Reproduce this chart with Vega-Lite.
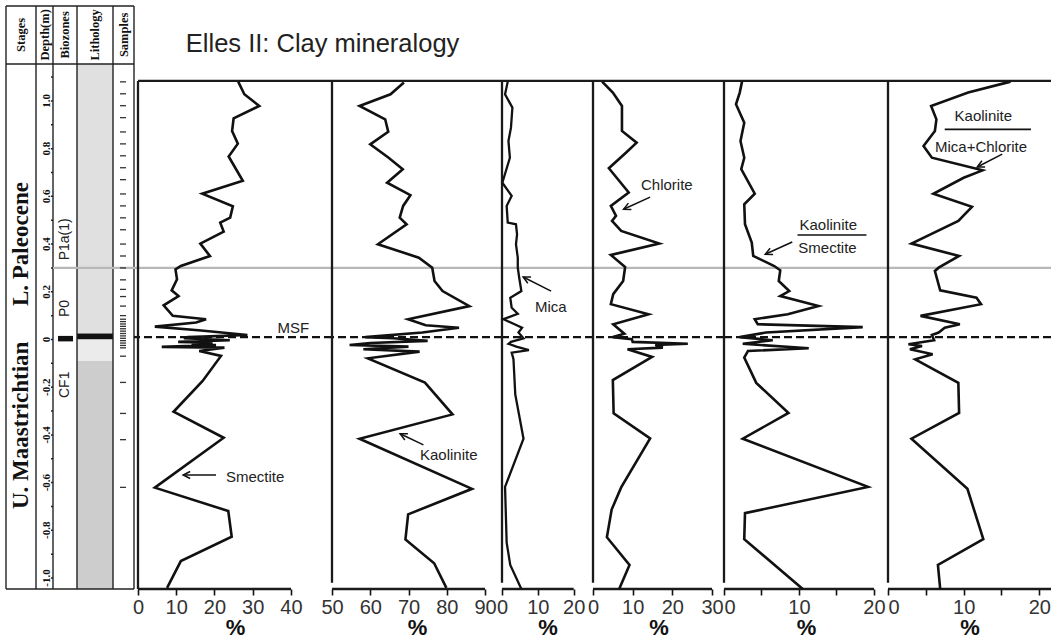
{
"$schema": "https://vega.github.io/schema/vega-lite/v6.json",
"padding": {"left": 5, "top": 5, "right": 0, "bottom": 0},
"spacing": 0,
"bounds": "flush",
"config": {
 "view": {"stroke": null},
 "font": "Liberation Sans",
 "axisX": {"domain": false, "grid": false, "tickSize": 6, "tickWidth": 1.6, "tickColor": "#111", "labelFontSize": 20, "labelColor": "#333", "labelPadding": 2, "labelFont": "Liberation Sans", "titleFont": "Liberation Sans", "titleFontSize": 22, "titleFontWeight": "bold", "titleColor": "#111", "titlePadding": 0, "labelFlush": false, "labelOverlap": false}
},
"datasets": {
 "grayline": [{"d": 0.3}],
 "msfline": [{"d": 0.01}],
 "topline": [{"d": 1.084}],
 "smectite": [
  {"d":1.081,"v":26.2},{"d":1.028,"v":27.8},{"d":0.979,"v":31.7},{"d":0.927,"v":25.0},{"d":0.874,"v":24.6},{"d":0.821,"v":26.1},{"d":0.767,"v":23.7},{"d":0.665,"v":27.4},{"d":0.611,"v":16.8},{"d":0.558,"v":24.8},{"d":0.511,"v":24.1},{"d":0.490,"v":21.5},{"d":0.452,"v":22.4},{"d":0.402,"v":16.3},{"d":0.350,"v":18.8},{"d":0.308,"v":11.2},{"d":0.294,"v":9.8},{"d":0.252,"v":10.2},{"d":0.206,"v":8.8},{"d":0.182,"v":10.6},{"d":0.143,"v":6.7},{"d":0.099,"v":9.1},{"d":0.085,"v":17.8},{"d":0.071,"v":15.2},{"d":0.054,"v":4.4},{"d":0.038,"v":16.5},{"d":0.019,"v":28.6},{"d":0.010,"v":13.0},{"d":0.005,"v":12.0},{"d":-0.003,"v":24.0},{"d":-0.010,"v":10.5},{"d":-0.013,"v":19.5},{"d":-0.020,"v":14.0},{"d":-0.023,"v":20.4},{"d":-0.031,"v":6.2},{"d":-0.034,"v":22.6},{"d":-0.048,"v":16.0},{"d":-0.069,"v":21.7},{"d":-0.174,"v":16.9},{"d":-0.303,"v":9.3},{"d":-0.412,"v":22.4},{"d":-0.621,"v":4.4},{"d":-0.719,"v":23.6},{"d":-0.827,"v":24.5},{"d":-0.929,"v":11.2},{"d":-1.041,"v":7.6}
 ],
 "kaolinite": [
  {"d":1.077,"v":68.8},{"d":1.028,"v":65.3},{"d":0.979,"v":57.2},{"d":0.923,"v":63.9},{"d":0.871,"v":64.7},{"d":0.818,"v":60.0},{"d":0.762,"v":64.8},{"d":0.714,"v":68.5},{"d":0.657,"v":64.4},{"d":0.605,"v":70.5},{"d":0.560,"v":68.6},{"d":0.511,"v":67.7},{"d":0.483,"v":69.5},{"d":0.399,"v":62.0},{"d":0.343,"v":72.7},{"d":0.301,"v":76.2},{"d":0.245,"v":76.8},{"d":0.203,"v":78.9},{"d":0.140,"v":85.9},{"d":0.085,"v":69.9},{"d":0.060,"v":74.5},{"d":0.049,"v":83.2},{"d":0.029,"v":73.6},{"d":0.010,"v":58.7},{"d":0.005,"v":66.0},{"d":-0.006,"v":75.0},{"d":-0.015,"v":60.0},{"d":-0.023,"v":54.6},{"d":-0.030,"v":70.0},{"d":-0.041,"v":58.2},{"d":-0.051,"v":72.9},{"d":-0.079,"v":59.4},{"d":-0.181,"v":74.3},{"d":-0.314,"v":81.5},{"d":-0.416,"v":57.2},{"d":-0.626,"v":86.6},{"d":-0.733,"v":69.9},{"d":-0.838,"v":69.2},{"d":-0.938,"v":76.7},{"d":-1.041,"v":79.9}
 ],
 "mica": [
  {"d":1.081,"v":1.6},{"d":1.028,"v":0.85},{"d":0.972,"v":2.9},{"d":0.888,"v":2.5},{"d":0.832,"v":1.8},{"d":0.762,"v":2.2},{"d":0.657,"v":0.1},{"d":0.602,"v":2.7},{"d":0.560,"v":1.3},{"d":0.490,"v":1.6},{"d":0.483,"v":3.9},{"d":0.441,"v":4.2},{"d":0.399,"v":3.9},{"d":0.343,"v":4.4},{"d":0.301,"v":4.4},{"d":0.259,"v":4.8},{"d":0.203,"v":5.4},{"d":0.175,"v":2.3},{"d":0.133,"v":2.7},{"d":0.108,"v":4.4},{"d":0.085,"v":0.4},{"d":0.064,"v":3.5},{"d":0.049,"v":5.6},{"d":0.029,"v":4.6},{"d":0.005,"v":6.0},{"d":-0.010,"v":2.5},{"d":-0.018,"v":1.8},{"d":-0.030,"v":4.0},{"d":-0.045,"v":7.5},{"d":-0.055,"v":2.7},{"d":-0.083,"v":3.2},{"d":-0.230,"v":3.7},{"d":-0.416,"v":6.0},{"d":-0.618,"v":0.85},{"d":-0.852,"v":1.3},{"d":-0.945,"v":2.3},{"d":-1.046,"v":5.4}
 ],
 "chlorite": [
  {"d":1.081,"v":2.3},{"d":1.035,"v":5.0},{"d":0.979,"v":7.3},{"d":0.874,"v":7.3},{"d":0.825,"v":11.0},{"d":0.783,"v":8.3},{"d":0.718,"v":4.0},{"d":0.616,"v":9.0},{"d":0.560,"v":4.5},{"d":0.518,"v":5.8},{"d":0.497,"v":4.8},{"d":0.455,"v":7.1},{"d":0.402,"v":16.7},{"d":0.354,"v":4.5},{"d":0.304,"v":8.1},{"d":0.245,"v":7.6},{"d":0.190,"v":5.1},{"d":0.148,"v":4.5},{"d":0.106,"v":14.0},{"d":0.064,"v":5.1},{"d":0.024,"v":7.9},{"d":0.010,"v":5.0},{"d":0.001,"v":9.8},{"d":-0.010,"v":10.0},{"d":-0.018,"v":23.9},{"d":-0.023,"v":15.7},{"d":-0.034,"v":17.6},{"d":-0.041,"v":8.7},{"d":-0.073,"v":14.9},{"d":-0.170,"v":5.0},{"d":-0.309,"v":5.2},{"d":-0.415,"v":14.4},{"d":-0.620,"v":7.1},{"d":-0.713,"v":4.7},{"d":-0.829,"v":3.5},{"d":-0.945,"v":9.2},{"d":-1.046,"v":6.6}
 ],
 "ks": [
  {"d":1.081,"v":2.4},{"d":1.035,"v":2.1},{"d":0.986,"v":1.6},{"d":0.909,"v":2.7},{"d":0.832,"v":2.2},{"d":0.762,"v":2.7},{"d":0.714,"v":2.3},{"d":0.611,"v":4.1},{"d":0.567,"v":2.7},{"d":0.483,"v":2.8},{"d":0.406,"v":3.7},{"d":0.350,"v":3.9},{"d":0.308,"v":6.7},{"d":0.290,"v":7.5},{"d":0.245,"v":7.3},{"d":0.203,"v":8.7},{"d":0.182,"v":7.5},{"d":0.140,"v":12.6},{"d":0.106,"v":8.5},{"d":0.085,"v":4.1},{"d":0.064,"v":4.5},{"d":0.052,"v":18.5},{"d":0.029,"v":5.6},{"d":0.010,"v":2.1},{"d":-0.003,"v":6.5},{"d":-0.018,"v":2.5},{"d":-0.037,"v":11.3},{"d":-0.048,"v":3.2},{"d":-0.076,"v":2.7},{"d":-0.182,"v":4.3},{"d":-0.308,"v":8.6},{"d":-0.416,"v":2.5},{"d":-0.618,"v":19.2},{"d":-0.728,"v":2.8},{"d":-0.837,"v":2.7},{"d":-1.046,"v":10.5}
 ],
 "kmc": [
  {"d":1.081,"v":16.2},{"d":1.035,"v":10.6},{"d":0.979,"v":5.7},{"d":0.923,"v":6.4},{"d":0.874,"v":6.2},{"d":0.811,"v":4.7},{"d":0.762,"v":5.8},{"d":0.709,"v":12.5},{"d":0.678,"v":10.0},{"d":0.611,"v":6.0},{"d":0.556,"v":11.1},{"d":0.497,"v":9.3},{"d":0.402,"v":3.1},{"d":0.350,"v":9.4},{"d":0.301,"v":6.7},{"d":0.287,"v":6.2},{"d":0.206,"v":6.9},{"d":0.175,"v":11.7},{"d":0.148,"v":12.3},{"d":0.099,"v":4.3},{"d":0.064,"v":9.5},{"d":0.049,"v":7.5},{"d":0.029,"v":6.7},{"d":0.019,"v":5.8},{"d":-0.003,"v":6.1},{"d":-0.020,"v":2.7},{"d":-0.027,"v":4.5},{"d":-0.041,"v":2.9},{"d":-0.062,"v":5.9},{"d":-0.083,"v":3.6},{"d":-0.182,"v":9.3},{"d":-0.308,"v":9.4},{"d":-0.416,"v":3.1},{"d":-0.626,"v":10.5},{"d":-0.837,"v":12.6},{"d":-0.945,"v":6.6},{"d":-1.046,"v":6.9}
 ],
 "samples": [
  {"d":1.08},{"d":1.03},{"d":0.98},{"d":0.93},{"d":0.87},{"d":0.82},{"d":0.77},{"d":0.72},{"d":0.67},{"d":0.61},{"d":0.56},{"d":0.51},{"d":0.46},{"d":0.40},{"d":0.35},{"d":0.30},{"d":0.25},{"d":0.21},{"d":0.18},{"d":0.14},{"d":0.10},{"d":0.085},{"d":0.075},{"d":0.065},{"d":0.055},{"d":0.045},{"d":0.035},{"d":0.025},{"d":0.015},{"d":0.005},{"d":-0.005},{"d":-0.015},{"d":-0.025},{"d":-0.035},{"d":-0.07},{"d":-0.18},{"d":-0.31},{"d":-0.42},{"d":-0.62}
 ],
 "depthticks": [
  {"d":1.1},{"d":1.0},{"d":0.9},{"d":0.8},{"d":0.7},{"d":0.6},{"d":0.5},{"d":0.4},{"d":0.3},{"d":0.2},{"d":0.1},{"d":0.0},{"d":-0.1},{"d":-0.2},{"d":-0.3},{"d":-0.4},{"d":-0.5},{"d":-0.6},{"d":-0.7},{"d":-0.8},{"d":-0.9},{"d":-1.0}
 ],
 "depthlabels": [
  {"d":1.0,"label":"1.0"},{"d":0.8,"label":"0.8"},{"d":0.6,"label":"0.6"},{"d":0.4,"label":"0.4"},{"d":0.2,"label":"0.2"},{"d":0.0,"label":"0"},{"d":-0.2,"label":"-0.2"},{"d":-0.4,"label":"-0.4"},{"d":-0.6,"label":"-0.6"},{"d":-0.8,"label":"-0.8"},{"d":-1.0,"label":"-1.0"}
 ]
},
"hconcat": [
 {
  "width": 132, "height": 583,
  "layer": [
   {"data": {"values": [
     {"x":71,"x2":107,"d":1.155,"d2":0.025,"unit":"stipple"},
     {"x":71,"x2":107,"d":0.025,"d2":0.0,"unit":"black"},
     {"x":71,"x2":107,"d":0.0,"d2":-0.09,"unit":"mixed"},
     {"x":71,"x2":107,"d":-0.09,"d2":-1.046,"unit":"marl"},
     {"x":52,"x2":67,"d":0.015,"d2":-0.008,"unit":"black"}
    ]},
    "mark": {"type": "rect"},
    "encoding": {
     "x": {"field": "x", "type": "quantitative", "scale": {"domain": [0, 132], "nice": false, "zero": false}, "axis": null},
     "x2": {"field": "x2"},
     "y": {"field": "d", "type": "quantitative", "scale": {"domain": [-1.046, 1.398], "nice": false, "zero": false}, "axis": null},
     "y2": {"field": "d2"},
     "color": {"field": "unit", "type": "nominal", "scale": {"domain": ["stipple", "black", "mixed", "marl"], "range": ["#e0e0e0", "#111111", "#ebebeb", "#cdcdcd"]}, "legend": null}
    }
   },
   {"data": {"values": [
     {"x":0,"x2":128,"d":1.398,"d2":1.398},
     {"x":0,"x2":128,"d":-1.046,"d2":-1.046},
     {"x":0,"x2":0,"d":1.398,"d2":-1.046},
     {"x":128,"x2":128,"d":1.398,"d2":-1.046},
     {"x":0,"x2":128,"d":1.155,"d2":1.155},
     {"x":30,"x2":30,"d":1.398,"d2":-1.046},
     {"x":47,"x2":47,"d":1.398,"d2":-1.046},
     {"x":71,"x2":71,"d":1.398,"d2":-1.046},
     {"x":107,"x2":107,"d":1.398,"d2":-1.046}
    ]},
    "mark": {"type": "rule", "color": "#222", "strokeWidth": 1.4},
    "encoding": {
     "x": {"field": "x", "type": "quantitative", "scale": {"domain": [0, 132], "nice": false, "zero": false}, "axis": null},
     "x2": {"field": "x2"},
     "y": {"field": "d", "type": "quantitative", "scale": {"domain": [-1.046, 1.398], "nice": false, "zero": false}, "axis": null},
     "y2": {"field": "d2"}
    }
   },
   {"data": {"values": [
     {"x":47,"x2":132,"d":0.3}
    ]},
    "mark": {"type": "rule", "color": "#b8b8b8", "strokeWidth": 2.2},
    "encoding": {
     "x": {"field": "x", "type": "quantitative", "scale": {"domain": [0, 132], "nice": false, "zero": false}, "axis": null},
     "x2": {"field": "x2"},
     "y": {"field": "d", "type": "quantitative", "scale": {"domain": [-1.046, 1.398], "nice": false, "zero": false}, "axis": null}
    }
   },
   {"data": {"values": [
     {"x":128,"x2":132,"d":0.01}
    ]},
    "mark": {"type": "rule", "color": "#111", "strokeWidth": 2.3},
    "encoding": {
     "x": {"field": "x", "type": "quantitative", "scale": {"domain": [0, 132], "nice": false, "zero": false}, "axis": null},
     "x2": {"field": "x2"},
     "y": {"field": "d", "type": "quantitative", "scale": {"domain": [-1.046, 1.398], "nice": false, "zero": false}, "axis": null}
    }
   },
   {"data": {"name": "samples"},
    "mark": {"type": "rule", "color": "#333", "strokeWidth": 1.3},
    "encoding": {
     "x": {"datum": 114, "type": "quantitative", "scale": {"domain": [0, 132], "nice": false, "zero": false}, "axis": null},
     "x2": {"datum": 120},
     "y": {"field": "d", "type": "quantitative", "scale": {"domain": [-1.046, 1.398], "nice": false, "zero": false}, "axis": null}
    }
   },
   {"data": {"name": "depthticks"},
    "mark": {"type": "rule", "color": "#222", "strokeWidth": 1.5},
    "encoding": {
     "x": {"datum": 45, "type": "quantitative", "scale": {"domain": [0, 132], "nice": false, "zero": false}, "axis": null},
     "x2": {"datum": 47},
     "y": {"field": "d", "type": "quantitative", "scale": {"domain": [-1.046, 1.398], "nice": false, "zero": false}, "axis": null}
    }
   },
   {"data": {"name": "depthlabels"},
    "mark": {"type": "text", "angle": 270, "font": "Liberation Serif", "fontWeight": "bold", "fontSize": 11, "align": "center", "baseline": "bottom", "color": "#111"},
    "encoding": {
     "x": {"datum": 45.5, "type": "quantitative", "scale": {"domain": [0, 132], "nice": false, "zero": false}, "axis": null},
     "y": {"field": "d", "type": "quantitative", "scale": {"domain": [-1.046, 1.398], "nice": false, "zero": false}, "axis": null},
     "text": {"field": "label"}
    }
   },
   {"data": {"values": [
     {"x":15,"d":1.277,"label":"Stages"},
     {"x":38.5,"d":1.277,"label":"Depth(m)"},
     {"x":59,"d":1.277,"label":"Biozones"},
     {"x":89,"d":1.277,"label":"Lithology"},
     {"x":117.5,"d":1.277,"label":"Samples"}
    ]},
    "mark": {"type": "text", "angle": 270, "font": "Liberation Serif", "fontWeight": "bold", "fontSize": 12.5, "align": "center", "baseline": "middle", "color": "#111"},
    "encoding": {
     "x": {"field": "x", "type": "quantitative", "scale": {"domain": [0, 132], "nice": false, "zero": false}, "axis": null},
     "y": {"field": "d", "type": "quantitative", "scale": {"domain": [-1.046, 1.398], "nice": false, "zero": false}, "axis": null},
     "text": {"field": "label"}
    }
   },
   {"data": {"values": [
     {"x":15,"d":0.40,"label":"L. Paleocene"},
     {"x":15,"d":-0.36,"label":"U. Maastrichtian"}
    ]},
    "mark": {"type": "text", "angle": 270, "font": "Liberation Serif", "fontWeight": "bold", "fontSize": 23, "align": "center", "baseline": "middle", "color": "#111"},
    "encoding": {
     "x": {"field": "x", "type": "quantitative", "scale": {"domain": [0, 132], "nice": false, "zero": false}, "axis": null},
     "y": {"field": "d", "type": "quantitative", "scale": {"domain": [-1.046, 1.398], "nice": false, "zero": false}, "axis": null},
     "text": {"field": "label"}
    }
   },
   {"data": {"values": [
     {"d":0.42,"label":"P1a(1)"},
     {"d":0.13,"label":"P0"},
     {"d":-0.19,"label":"CF1"}
    ]},
    "mark": {"type": "text", "angle": 270, "font": "Liberation Sans", "fontSize": 14, "align": "center", "baseline": "middle", "color": "#222"},
    "encoding": {
     "x": {"datum": 59, "type": "quantitative", "scale": {"domain": [0, 132], "nice": false, "zero": false}, "axis": null},
     "y": {"field": "d", "type": "quantitative", "scale": {"domain": [-1.046, 1.398], "nice": false, "zero": false}, "axis": null},
     "text": {"field": "label"}
    }
   }
  ]
 },
 {
  "width": 194, "height": 583,
  "layer": [
   {"data": {"name": "grayline"}, "mark": {"type": "rule", "color": "#b8b8b8", "strokeWidth": 2.2}, "encoding": {"y": {"field": "d", "type": "quantitative", "scale": {"domain": [-1.046, 1.398], "nice": false, "zero": false}, "axis": null}}},
   {"data": {"name": "msfline"}, "mark": {"type": "rule", "color": "#111", "strokeWidth": 2.3, "strokeDash": [8, 4]}, "encoding": {"y": {"field": "d", "type": "quantitative", "scale": {"domain": [-1.046, 1.398], "nice": false, "zero": false}, "axis": null}}},
   {"data": {"name": "topline"}, "mark": {"type": "rule", "color": "#1a1a1a", "strokeWidth": 2.3}, "encoding": {"y": {"field": "d", "type": "quantitative", "scale": {"domain": [-1.046, 1.398], "nice": false, "zero": false}, "axis": null}}},
   {"data": {"values": [{"v": 0, "d": 1.084, "d2": -1.046}]}, "mark": {"type": "rule", "color": "#1a1a1a", "strokeWidth": 2.3},
    "encoding": {"x": {"field": "v", "type": "quantitative", "scale": {"domain": [0, 50.72], "nice": false, "zero": false}, "axis": {"values": [0,10,20,30,40]}, "title": "%"}, "y": {"field": "d", "type": "quantitative", "scale": {"domain": [-1.046, 1.398], "nice": false, "zero": false}, "axis": null}, "y2": {"field": "d2"}}},
   {"data": {"values": [{"v": 0, "v2": 40, "d": -1.046}]}, "mark": {"type": "rule", "color": "#1a1a1a", "strokeWidth": 2.3},
    "encoding": {"x": {"field": "v", "type": "quantitative", "scale": {"domain": [0, 50.72], "nice": false, "zero": false}, "axis": {"values": [0,10,20,30,40]}, "title": "%"}, "x2": {"field": "v2"}, "y": {"field": "d", "type": "quantitative", "scale": {"domain": [-1.046, 1.398], "nice": false, "zero": false}, "axis": null}}},
   {"data": {"name": "smectite"}, "mark": {"type": "line", "color": "#111", "strokeWidth": 2.6},
    "encoding": {"x": {"field": "v", "type": "quantitative", "scale": {"domain": [0, 50.72], "nice": false, "zero": false}, "axis": {"values": [0,10,20,30,40]}, "title": "%"}, "y": {"field": "d", "type": "quantitative", "scale": {"domain": [-1.046, 1.398], "nice": false, "zero": false}, "axis": null}, "order": {"field": "d", "type": "quantitative"}}},
   {"data": {"values": [{"v": 20.4, "d": -0.568, "v2": 11.8, "d2": -0.568}]}, "mark": {"type": "rule", "color": "#111", "strokeWidth": 1.5},
    "encoding": {"x": {"field": "v", "type": "quantitative", "scale": {"domain": [0, 50.72], "nice": false, "zero": false}, "axis": {"values": [0,10,20,30,40]}, "title": "%"}, "x2": {"field": "v2"}, "y": {"field": "d", "type": "quantitative", "scale": {"domain": [-1.046, 1.398], "nice": false, "zero": false}, "axis": null}, "y2": {"field": "d2"}}},
   {"data": {"values": [{"v": 11.8, "d": -0.568}]}, "mark": {"type": "point", "shape": "M-1,-0.5L0,0L-1,0.5", "angle": 180, "size": 196, "filled": false, "color": "#111", "strokeWidth": 1.5, "opacity": 1},
    "encoding": {"x": {"field": "v", "type": "quantitative", "scale": {"domain": [0, 50.72], "nice": false, "zero": false}, "axis": {"values": [0,10,20,30,40]}, "title": "%"}, "y": {"field": "d", "type": "quantitative", "scale": {"domain": [-1.046, 1.398], "nice": false, "zero": false}, "axis": null}}},
   {"data": {"values": [{"v": 23.0, "d": -0.577, "label": "Smectite"}, {"v": 36.5, "d": 0.049, "label": "MSF"}]}, "mark": {"type": "text", "fontSize": 15, "align": "left", "baseline": "middle", "color": "#222"},
    "encoding": {"x": {"field": "v", "type": "quantitative", "scale": {"domain": [0, 50.72], "nice": false, "zero": false}, "axis": {"values": [0,10,20,30,40]}, "title": "%"}, "y": {"field": "d", "type": "quantitative", "scale": {"domain": [-1.046, 1.398], "nice": false, "zero": false}, "axis": null}, "text": {"field": "label"}}},
   {"data": {"values": [{"v": 12.5, "d": 1.205, "label": "Elles II: Clay mineralogy"}]}, "mark": {"type": "text", "fontSize": 25.5, "align": "left", "baseline": "alphabetic", "color": "#222"},
    "encoding": {"x": {"field": "v", "type": "quantitative", "scale": {"domain": [0, 50.72], "nice": false, "zero": false}, "axis": {"values": [0,10,20,30,40]}, "title": "%"}, "y": {"field": "d", "type": "quantitative", "scale": {"domain": [-1.046, 1.398], "nice": false, "zero": false}, "axis": null}, "text": {"field": "label"}}}
  ]
 },
 {
  "width": 170, "height": 583,
  "layer": [
   {"data": {"name": "grayline"}, "mark": {"type": "rule", "color": "#b8b8b8", "strokeWidth": 2.2}, "encoding": {"y": {"field": "d", "type": "quantitative", "scale": {"domain": [-1.046, 1.398], "nice": false, "zero": false}, "axis": null}}},
   {"data": {"name": "msfline"}, "mark": {"type": "rule", "color": "#111", "strokeWidth": 2.3, "strokeDash": [8, 4]}, "encoding": {"y": {"field": "d", "type": "quantitative", "scale": {"domain": [-1.046, 1.398], "nice": false, "zero": false}, "axis": null}}},
   {"data": {"name": "topline"}, "mark": {"type": "rule", "color": "#1a1a1a", "strokeWidth": 2.3}, "encoding": {"y": {"field": "d", "type": "quantitative", "scale": {"domain": [-1.046, 1.398], "nice": false, "zero": false}, "axis": null}}},
   {"data": {"values": [{"v": 50, "d": 1.084, "d2": -1.02}]}, "mark": {"type": "rule", "color": "#1a1a1a", "strokeWidth": 2.3},
    "encoding": {"x": {"field": "v", "type": "quantitative", "scale": {"domain": [50, 94.44], "nice": false, "zero": false}, "axis": {"values": [50,60,70,80,90]}, "title": "%"}, "y": {"field": "d", "type": "quantitative", "scale": {"domain": [-1.046, 1.398], "nice": false, "zero": false}, "axis": null}, "y2": {"field": "d2"}}},
   {"data": {"values": [{"v": 50, "v2": 90, "d": -1.046}]}, "mark": {"type": "rule", "color": "#1a1a1a", "strokeWidth": 2.3},
    "encoding": {"x": {"field": "v", "type": "quantitative", "scale": {"domain": [50, 94.44], "nice": false, "zero": false}, "axis": {"values": [50,60,70,80,90]}, "title": "%"}, "x2": {"field": "v2"}, "y": {"field": "d", "type": "quantitative", "scale": {"domain": [-1.046, 1.398], "nice": false, "zero": false}, "axis": null}}},
   {"data": {"name": "kaolinite"}, "mark": {"type": "line", "color": "#111", "strokeWidth": 2.6},
    "encoding": {"x": {"field": "v", "type": "quantitative", "scale": {"domain": [50, 94.44], "nice": false, "zero": false}, "axis": {"values": [50,60,70,80,90]}, "title": "%"}, "y": {"field": "d", "type": "quantitative", "scale": {"domain": [-1.046, 1.398], "nice": false, "zero": false}, "axis": null}, "order": {"field": "d", "type": "quantitative"}}},
   {"data": {"values": [{"v": 73.9, "d": -0.442, "v2": 67.8, "d2": -0.395}]}, "mark": {"type": "rule", "color": "#111", "strokeWidth": 1.5},
    "encoding": {"x": {"field": "v", "type": "quantitative", "scale": {"domain": [50, 94.44], "nice": false, "zero": false}, "axis": {"values": [50,60,70,80,90]}, "title": "%"}, "x2": {"field": "v2"}, "y": {"field": "d", "type": "quantitative", "scale": {"domain": [-1.046, 1.398], "nice": false, "zero": false}, "axis": null}, "y2": {"field": "d2"}}},
   {"data": {"values": [{"v": 67.8, "d": -0.395}]}, "mark": {"type": "point", "shape": "M-1,-0.5L0,0L-1,0.5", "angle": 206, "size": 196, "filled": false, "color": "#111", "strokeWidth": 1.5, "opacity": 1},
    "encoding": {"x": {"field": "v", "type": "quantitative", "scale": {"domain": [50, 94.44], "nice": false, "zero": false}, "axis": {"values": [50,60,70,80,90]}, "title": "%"}, "y": {"field": "d", "type": "quantitative", "scale": {"domain": [-1.046, 1.398], "nice": false, "zero": false}, "axis": null}}},
   {"data": {"values": [{"v": 73.0, "d": -0.484, "label": "Kaolinite"}]}, "mark": {"type": "text", "fontSize": 15, "align": "left", "baseline": "middle", "color": "#222"},
    "encoding": {"x": {"field": "v", "type": "quantitative", "scale": {"domain": [50, 94.44], "nice": false, "zero": false}, "axis": {"values": [50,60,70,80,90]}, "title": "%"}, "y": {"field": "d", "type": "quantitative", "scale": {"domain": [-1.046, 1.398], "nice": false, "zero": false}, "axis": null}, "text": {"field": "label"}}}
  ]
 },
 {
  "width": 91, "height": 583,
  "layer": [
   {"data": {"name": "grayline"}, "mark": {"type": "rule", "color": "#b8b8b8", "strokeWidth": 2.2}, "encoding": {"y": {"field": "d", "type": "quantitative", "scale": {"domain": [-1.046, 1.398], "nice": false, "zero": false}, "axis": null}}},
   {"data": {"name": "msfline"}, "mark": {"type": "rule", "color": "#111", "strokeWidth": 2.3, "strokeDash": [8, 4]}, "encoding": {"y": {"field": "d", "type": "quantitative", "scale": {"domain": [-1.046, 1.398], "nice": false, "zero": false}, "axis": null}}},
   {"data": {"name": "topline"}, "mark": {"type": "rule", "color": "#1a1a1a", "strokeWidth": 2.3}, "encoding": {"y": {"field": "d", "type": "quantitative", "scale": {"domain": [-1.046, 1.398], "nice": false, "zero": false}, "axis": null}}},
   {"data": {"values": [{"v": 0, "d": 1.084, "d2": -1.02}]}, "mark": {"type": "rule", "color": "#1a1a1a", "strokeWidth": 2.3},
    "encoding": {"x": {"field": "v", "type": "quantitative", "scale": {"domain": [0, 25.38], "nice": false, "zero": false}, "axis": {"values": [0,10,20]}, "title": "%"}, "y": {"field": "d", "type": "quantitative", "scale": {"domain": [-1.046, 1.398], "nice": false, "zero": false}, "axis": null}, "y2": {"field": "d2"}}},
   {"data": {"values": [{"v": 0, "v2": 20, "d": -1.046}]}, "mark": {"type": "rule", "color": "#1a1a1a", "strokeWidth": 2.3},
    "encoding": {"x": {"field": "v", "type": "quantitative", "scale": {"domain": [0, 25.38], "nice": false, "zero": false}, "axis": {"values": [0,10,20]}, "title": "%"}, "x2": {"field": "v2"}, "y": {"field": "d", "type": "quantitative", "scale": {"domain": [-1.046, 1.398], "nice": false, "zero": false}, "axis": null}}},
   {"data": {"name": "mica"}, "mark": {"type": "line", "color": "#111", "strokeWidth": 2.3},
    "encoding": {"x": {"field": "v", "type": "quantitative", "scale": {"domain": [0, 25.38], "nice": false, "zero": false}, "axis": {"values": [0,10,20]}, "title": "%"}, "y": {"field": "d", "type": "quantitative", "scale": {"domain": [-1.046, 1.398], "nice": false, "zero": false}, "axis": null}, "order": {"field": "d", "type": "quantitative"}}},
   {"data": {"values": [{"v": 13.7, "d": 0.203, "v2": 5.9, "d2": 0.262}]}, "mark": {"type": "rule", "color": "#111", "strokeWidth": 1.5},
    "encoding": {"x": {"field": "v", "type": "quantitative", "scale": {"domain": [0, 25.38], "nice": false, "zero": false}, "axis": {"values": [0,10,20]}, "title": "%"}, "x2": {"field": "v2"}, "y": {"field": "d", "type": "quantitative", "scale": {"domain": [-1.046, 1.398], "nice": false, "zero": false}, "axis": null}, "y2": {"field": "d2"}}},
   {"data": {"values": [{"v": 5.9, "d": 0.262}]}, "mark": {"type": "point", "shape": "M-1,-0.5L0,0L-1,0.5", "angle": 207, "size": 196, "filled": false, "color": "#111", "strokeWidth": 1.5, "opacity": 1},
    "encoding": {"x": {"field": "v", "type": "quantitative", "scale": {"domain": [0, 25.38], "nice": false, "zero": false}, "axis": {"values": [0,10,20]}, "title": "%"}, "y": {"field": "d", "type": "quantitative", "scale": {"domain": [-1.046, 1.398], "nice": false, "zero": false}, "axis": null}}},
   {"data": {"values": [{"v": 9.2, "d": 0.138, "label": "Mica"}]}, "mark": {"type": "text", "fontSize": 15, "align": "left", "baseline": "middle", "color": "#222"},
    "encoding": {"x": {"field": "v", "type": "quantitative", "scale": {"domain": [0, 25.38], "nice": false, "zero": false}, "axis": {"values": [0,10,20]}, "title": "%"}, "y": {"field": "d", "type": "quantitative", "scale": {"domain": [-1.046, 1.398], "nice": false, "zero": false}, "axis": null}, "text": {"field": "label"}}}
  ]
 },
 {
  "width": 131, "height": 583,
  "layer": [
   {"data": {"name": "grayline"}, "mark": {"type": "rule", "color": "#b8b8b8", "strokeWidth": 2.2}, "encoding": {"y": {"field": "d", "type": "quantitative", "scale": {"domain": [-1.046, 1.398], "nice": false, "zero": false}, "axis": null}}},
   {"data": {"name": "msfline"}, "mark": {"type": "rule", "color": "#111", "strokeWidth": 2.3, "strokeDash": [8, 4]}, "encoding": {"y": {"field": "d", "type": "quantitative", "scale": {"domain": [-1.046, 1.398], "nice": false, "zero": false}, "axis": null}}},
   {"data": {"name": "topline"}, "mark": {"type": "rule", "color": "#1a1a1a", "strokeWidth": 2.3}, "encoding": {"y": {"field": "d", "type": "quantitative", "scale": {"domain": [-1.046, 1.398], "nice": false, "zero": false}, "axis": null}}},
   {"data": {"values": [{"v": 0, "d": 1.084, "d2": -1.02}]}, "mark": {"type": "rule", "color": "#1a1a1a", "strokeWidth": 2.3},
    "encoding": {"x": {"field": "v", "type": "quantitative", "scale": {"domain": [0, 33.02], "nice": false, "zero": false}, "axis": {"values": [0,10,20,30]}, "title": "%"}, "y": {"field": "d", "type": "quantitative", "scale": {"domain": [-1.046, 1.398], "nice": false, "zero": false}, "axis": null}, "y2": {"field": "d2"}}},
   {"data": {"values": [{"v": 0, "v2": 30, "d": -1.046}]}, "mark": {"type": "rule", "color": "#1a1a1a", "strokeWidth": 2.3},
    "encoding": {"x": {"field": "v", "type": "quantitative", "scale": {"domain": [0, 33.02], "nice": false, "zero": false}, "axis": {"values": [0,10,20,30]}, "title": "%"}, "x2": {"field": "v2"}, "y": {"field": "d", "type": "quantitative", "scale": {"domain": [-1.046, 1.398], "nice": false, "zero": false}, "axis": null}}},
   {"data": {"name": "chlorite"}, "mark": {"type": "line", "color": "#111", "strokeWidth": 2.6},
    "encoding": {"x": {"field": "v", "type": "quantitative", "scale": {"domain": [0, 33.02], "nice": false, "zero": false}, "axis": {"values": [0,10,20,30]}, "title": "%"}, "y": {"field": "d", "type": "quantitative", "scale": {"domain": [-1.046, 1.398], "nice": false, "zero": false}, "axis": null}, "order": {"field": "d", "type": "quantitative"}}},
   {"data": {"values": [{"v": 14.4, "d": 0.597, "v2": 7.7, "d2": 0.546}]}, "mark": {"type": "rule", "color": "#111", "strokeWidth": 1.5},
    "encoding": {"x": {"field": "v", "type": "quantitative", "scale": {"domain": [0, 33.02], "nice": false, "zero": false}, "axis": {"values": [0,10,20,30]}, "title": "%"}, "x2": {"field": "v2"}, "y": {"field": "d", "type": "quantitative", "scale": {"domain": [-1.046, 1.398], "nice": false, "zero": false}, "axis": null}, "y2": {"field": "d2"}}},
   {"data": {"values": [{"v": 7.7, "d": 0.546}]}, "mark": {"type": "point", "shape": "M-1,-0.5L0,0L-1,0.5", "angle": 155, "size": 196, "filled": false, "color": "#111", "strokeWidth": 1.5, "opacity": 1},
    "encoding": {"x": {"field": "v", "type": "quantitative", "scale": {"domain": [0, 33.02], "nice": false, "zero": false}, "axis": {"values": [0,10,20,30]}, "title": "%"}, "y": {"field": "d", "type": "quantitative", "scale": {"domain": [-1.046, 1.398], "nice": false, "zero": false}, "axis": null}}},
   {"data": {"values": [{"v": 12.1, "d": 0.648, "label": "Chlorite"}]}, "mark": {"type": "text", "fontSize": 15, "align": "left", "baseline": "middle", "color": "#222"},
    "encoding": {"x": {"field": "v", "type": "quantitative", "scale": {"domain": [0, 33.02], "nice": false, "zero": false}, "axis": {"values": [0,10,20,30]}, "title": "%"}, "y": {"field": "d", "type": "quantitative", "scale": {"domain": [-1.046, 1.398], "nice": false, "zero": false}, "axis": null}, "text": {"field": "label"}}}
  ]
 },
 {
  "width": 164, "height": 583,
  "layer": [
   {"data": {"name": "grayline"}, "mark": {"type": "rule", "color": "#b8b8b8", "strokeWidth": 2.2}, "encoding": {"y": {"field": "d", "type": "quantitative", "scale": {"domain": [-1.046, 1.398], "nice": false, "zero": false}, "axis": null}}},
   {"data": {"name": "msfline"}, "mark": {"type": "rule", "color": "#111", "strokeWidth": 2.3, "strokeDash": [8, 4]}, "encoding": {"y": {"field": "d", "type": "quantitative", "scale": {"domain": [-1.046, 1.398], "nice": false, "zero": false}, "axis": null}}},
   {"data": {"name": "topline"}, "mark": {"type": "rule", "color": "#1a1a1a", "strokeWidth": 2.3}, "encoding": {"y": {"field": "d", "type": "quantitative", "scale": {"domain": [-1.046, 1.398], "nice": false, "zero": false}, "axis": null}}},
   {"data": {"values": [{"v": 0, "d": 1.084, "d2": -1.02}]}, "mark": {"type": "rule", "color": "#1a1a1a", "strokeWidth": 2.3},
    "encoding": {"x": {"field": "v", "type": "quantitative", "scale": {"domain": [0, 21.87], "nice": false, "zero": false}, "axis": {"values": [0,5,10,15,20], "labelFlush": true, "labelExpr": "datum.value % 10 === 0 ? datum.label : ''"}, "title": "%"}, "y": {"field": "d", "type": "quantitative", "scale": {"domain": [-1.046, 1.398], "nice": false, "zero": false}, "axis": null}, "y2": {"field": "d2"}}},
   {"data": {"values": [{"v": 0, "v2": 20, "d": -1.046}]}, "mark": {"type": "rule", "color": "#1a1a1a", "strokeWidth": 2.3},
    "encoding": {"x": {"field": "v", "type": "quantitative", "scale": {"domain": [0, 21.87], "nice": false, "zero": false}, "axis": {"values": [0,5,10,15,20], "labelFlush": true, "labelExpr": "datum.value % 10 === 0 ? datum.label : ''"}, "title": "%"}, "x2": {"field": "v2"}, "y": {"field": "d", "type": "quantitative", "scale": {"domain": [-1.046, 1.398], "nice": false, "zero": false}, "axis": null}}},
   {"data": {"name": "ks"}, "mark": {"type": "line", "color": "#111", "strokeWidth": 2.6},
    "encoding": {"x": {"field": "v", "type": "quantitative", "scale": {"domain": [0, 21.87], "nice": false, "zero": false}, "axis": {"values": [0,5,10,15,20], "labelFlush": true, "labelExpr": "datum.value % 10 === 0 ? datum.label : ''"}, "title": "%"}, "y": {"field": "d", "type": "quantitative", "scale": {"domain": [-1.046, 1.398], "nice": false, "zero": false}, "axis": null}, "order": {"field": "d", "type": "quantitative"}}},
   {"data": {"values": [{"v": 9.1, "d": 0.409, "v2": 5.5, "d2": 0.357}, {"v": 9.8, "d": 0.438, "v2": 19.0, "d2": 0.438}]}, "mark": {"type": "rule", "color": "#111", "strokeWidth": 1.6},
    "encoding": {"x": {"field": "v", "type": "quantitative", "scale": {"domain": [0, 21.87], "nice": false, "zero": false}, "axis": {"values": [0,5,10,15,20], "labelFlush": true, "labelExpr": "datum.value % 10 === 0 ? datum.label : ''"}, "title": "%"}, "x2": {"field": "v2"}, "y": {"field": "d", "type": "quantitative", "scale": {"domain": [-1.046, 1.398], "nice": false, "zero": false}, "axis": null}, "y2": {"field": "d2"}}},
   {"data": {"values": [{"v": 5.5, "d": 0.357}]}, "mark": {"type": "point", "shape": "M-1,-0.5L0,0L-1,0.5", "angle": 155, "size": 196, "filled": false, "color": "#111", "strokeWidth": 1.5, "opacity": 1},
    "encoding": {"x": {"field": "v", "type": "quantitative", "scale": {"domain": [0, 21.87], "nice": false, "zero": false}, "axis": {"values": [0,5,10,15,20], "labelFlush": true, "labelExpr": "datum.value % 10 === 0 ? datum.label : ''"}, "title": "%"}, "y": {"field": "d", "type": "quantitative", "scale": {"domain": [-1.046, 1.398], "nice": false, "zero": false}, "axis": null}}},
   {"data": {"values": [{"v": 13.9, "d": 0.480, "label": "Kaolinite"}, {"v": 13.8, "d": 0.382, "label": "Smectite"}]}, "mark": {"type": "text", "fontSize": 15, "align": "center", "baseline": "middle", "color": "#222"},
    "encoding": {"x": {"field": "v", "type": "quantitative", "scale": {"domain": [0, 21.87], "nice": false, "zero": false}, "axis": {"values": [0,5,10,15,20], "labelFlush": true, "labelExpr": "datum.value % 10 === 0 ? datum.label : ''"}, "title": "%"}, "y": {"field": "d", "type": "quantitative", "scale": {"domain": [-1.046, 1.398], "nice": false, "zero": false}, "axis": null}, "text": {"field": "label"}}}
  ]
 },
 {
  "width": 163, "height": 583,
  "layer": [
   {"data": {"name": "grayline"}, "mark": {"type": "rule", "color": "#b8b8b8", "strokeWidth": 2.2}, "encoding": {"y": {"field": "d", "type": "quantitative", "scale": {"domain": [-1.046, 1.398], "nice": false, "zero": false}, "axis": null}}},
   {"data": {"name": "msfline"}, "mark": {"type": "rule", "color": "#111", "strokeWidth": 2.3, "strokeDash": [8, 4]}, "encoding": {"y": {"field": "d", "type": "quantitative", "scale": {"domain": [-1.046, 1.398], "nice": false, "zero": false}, "axis": null}}},
   {"data": {"name": "topline"}, "mark": {"type": "rule", "color": "#1a1a1a", "strokeWidth": 2.3}, "encoding": {"y": {"field": "d", "type": "quantitative", "scale": {"domain": [-1.046, 1.398], "nice": false, "zero": false}, "axis": null}}},
   {"data": {"values": [{"v": 0, "d": 1.084, "d2": -1.02}]}, "mark": {"type": "rule", "color": "#1a1a1a", "strokeWidth": 2.3},
    "encoding": {"x": {"field": "v", "type": "quantitative", "scale": {"domain": [0, 21.55], "nice": false, "zero": false}, "axis": {"values": [0,5,10,15,20], "labelFlush": true, "labelExpr": "datum.value % 10 === 0 ? datum.label : ''"}, "title": "%"}, "y": {"field": "d", "type": "quantitative", "scale": {"domain": [-1.046, 1.398], "nice": false, "zero": false}, "axis": null}, "y2": {"field": "d2"}}},
   {"data": {"values": [{"v": 0, "v2": 21.55, "d": -1.046}]}, "mark": {"type": "rule", "color": "#1a1a1a", "strokeWidth": 2.3},
    "encoding": {"x": {"field": "v", "type": "quantitative", "scale": {"domain": [0, 21.55], "nice": false, "zero": false}, "axis": {"values": [0,5,10,15,20], "labelFlush": true, "labelExpr": "datum.value % 10 === 0 ? datum.label : ''"}, "title": "%"}, "x2": {"field": "v2"}, "y": {"field": "d", "type": "quantitative", "scale": {"domain": [-1.046, 1.398], "nice": false, "zero": false}, "axis": null}}},
   {"data": {"name": "kmc"}, "mark": {"type": "line", "color": "#111", "strokeWidth": 2.6},
    "encoding": {"x": {"field": "v", "type": "quantitative", "scale": {"domain": [0, 21.55], "nice": false, "zero": false}, "axis": {"values": [0,5,10,15,20], "labelFlush": true, "labelExpr": "datum.value % 10 === 0 ? datum.label : ''"}, "title": "%"}, "y": {"field": "d", "type": "quantitative", "scale": {"domain": [-1.046, 1.398], "nice": false, "zero": false}, "axis": null}, "order": {"field": "d", "type": "quantitative"}}},
   {"data": {"values": [{"v": 15.1, "d": 0.777, "v2": 11.8, "d2": 0.723}, {"v": 7.5, "d": 0.881, "v2": 18.9, "d2": 0.881}]}, "mark": {"type": "rule", "color": "#111", "strokeWidth": 1.6},
    "encoding": {"x": {"field": "v", "type": "quantitative", "scale": {"domain": [0, 21.55], "nice": false, "zero": false}, "axis": {"values": [0,5,10,15,20], "labelFlush": true, "labelExpr": "datum.value % 10 === 0 ? datum.label : ''"}, "title": "%"}, "x2": {"field": "v2"}, "y": {"field": "d", "type": "quantitative", "scale": {"domain": [-1.046, 1.398], "nice": false, "zero": false}, "axis": null}, "y2": {"field": "d2"}}},
   {"data": {"values": [{"v": 11.8, "d": 0.723}]}, "mark": {"type": "point", "shape": "M-1,-0.5L0,0L-1,0.5", "angle": 153, "size": 196, "filled": false, "color": "#111", "strokeWidth": 1.5, "opacity": 1},
    "encoding": {"x": {"field": "v", "type": "quantitative", "scale": {"domain": [0, 21.55], "nice": false, "zero": false}, "axis": {"values": [0,5,10,15,20], "labelFlush": true, "labelExpr": "datum.value % 10 === 0 ? datum.label : ''"}, "title": "%"}, "y": {"field": "d", "type": "quantitative", "scale": {"domain": [-1.046, 1.398], "nice": false, "zero": false}, "axis": null}}},
   {"data": {"values": [{"v": 12.6, "d": 0.937, "label": "Kaolinite"}, {"v": 12.3, "d": 0.807, "label": "Mica+Chlorite"}]}, "mark": {"type": "text", "fontSize": 15, "align": "center", "baseline": "middle", "color": "#222"},
    "encoding": {"x": {"field": "v", "type": "quantitative", "scale": {"domain": [0, 21.55], "nice": false, "zero": false}, "axis": {"values": [0,5,10,15,20], "labelFlush": true, "labelExpr": "datum.value % 10 === 0 ? datum.label : ''"}, "title": "%"}, "y": {"field": "d", "type": "quantitative", "scale": {"domain": [-1.046, 1.398], "nice": false, "zero": false}, "axis": null}, "text": {"field": "label"}}}
  ]
 }
]
}
